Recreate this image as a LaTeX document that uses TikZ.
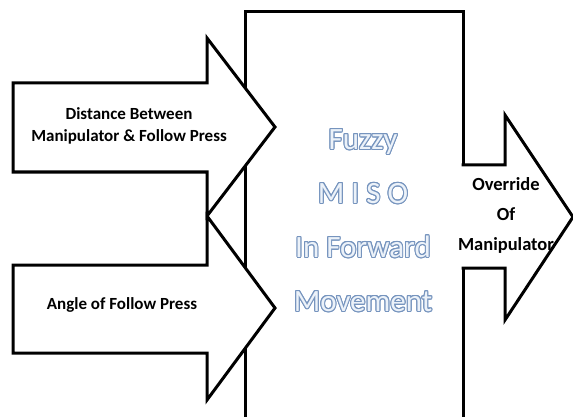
\documentclass[tikz,border=0pt]{standalone}
\usepackage{fontspec}
\setmainfont{Carlito}
\usepackage{contour}
\contourlength{1pt}
\definecolor{misoline}{RGB}{118,148,190}
\definecolor{misofill}{RGB}{236,242,249}
\newcommand{\hollow}[1]{\contour{misoline}{\textcolor{misofill}{#1}}}

\begin{document}
\begin{tikzpicture}[x=1pt, y=-1pt,
        outline/.style={line width=3pt, draw=black, line join=miter},
        bigarrow/.style={outline, fill=white},
        inlabel/.style={font=\bfseries\fontsize{17}{22}\selectfont, align=center},
        outlabel/.style={font=\bfseries\fontsize{18.5}{30}\selectfont, align=center},
        fuzzylabel/.style={font=\fontsize{31}{54}\selectfont, align=center}
    ]
        \useasboundingbox (0,0) rectangle (573,417);

        % fuzzy block, open at the bottom
        \draw[outline] (245,425) -- (245,12) -- (463,12) -- (463,425);

        % inputs
        \filldraw[bigarrow] (13,83) -- (207,83) -- (207,38) -- (275,127) -- (207,216) -- (207,172) -- (13,172) -- cycle;
        \filldraw[bigarrow] (13,265) -- (207,265) -- (207,216) -- (275,308) -- (207,400) -- (207,353) -- (13,353) -- cycle;

        % output
        \filldraw[bigarrow] (461.5,165) -- (505,165) -- (505,115) -- (573,217) -- (505,320) -- (505,268) -- (461.5,268);

        \node[inlabel] (dist) at (129,126) {Distance Between\\Manipulator \& Follow Press};
        \node[inlabel] (angle) at (122,305) {Angle of Follow Press};
        \node[outlabel] (override) at (506,215) {Override\\Of\\Manipulator};
        \node[fuzzylabel] (miso) at (363,221) {\hollow{Fuzzy}\\\hollow{M I S O}\\\hollow{In Forward}\\\hollow{Movement}};
    \end{tikzpicture}
\end{document}
